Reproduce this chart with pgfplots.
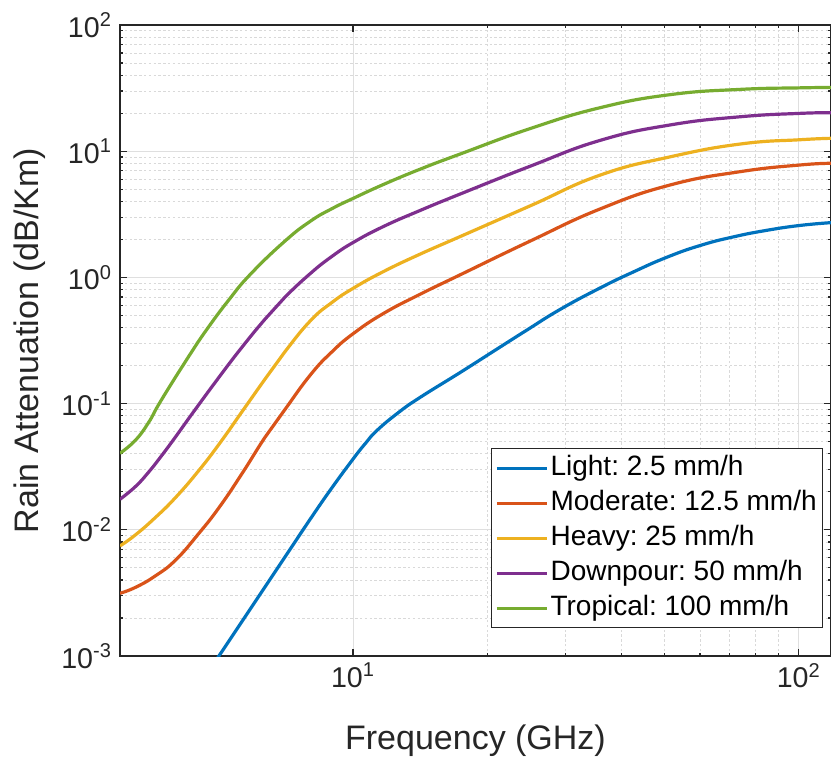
\documentclass[border=0pt]{standalone}
\usepackage{fontspec}
\setmainfont{Liberation Sans}
\usepackage{pgfplots}
\usepackage{pgfplotstable}
\pgfplotsset{compat=1.18}
\frenchspacing

\definecolor{mblue}{rgb}{0,0.447,0.741}
\definecolor{morange}{rgb}{0.85,0.325,0.098}
\definecolor{myellow}{rgb}{0.929,0.694,0.125}
\definecolor{mpurple}{rgb}{0.494,0.184,0.556}
\definecolor{mgreen}{rgb}{0.466,0.674,0.188}
\definecolor{axgray}{rgb}{0.15,0.15,0.15}

\pgfplotstableread{
f A
4.59 0.000646
5.00 0.00100
5.885 0.002366
7.00 0.005929
8.02 0.01219
8.97 0.02158
10.03 0.03690
10.66 0.0484
11.32 0.06138
12.66 0.0853
14.15 0.1122
17.4 0.1766
20.6 0.2582
24.5 0.3811
29.2 0.5598
35.86 0.8260
42.6 1.107
50.6 1.445
60.1 1.791
71.3 2.094
84.7 2.360
100.7 2.582
118.1 2.716
}\light

\pgfplotstableread{
f A
3.00 0.00314
3.25 0.00350
3.60 0.00431
4.00 0.00577
4.51 0.00938
5.02 0.01524
5.64 0.02805
6.36 0.0547
7.02 0.0889
8.02 0.1687
8.97 0.2576
10.03 0.3606
11.71 0.5188
14.15 0.7362
17.4 1.0495
25.0 1.945
35.86 3.491
51.4 5.395
73.9 6.887
100.7 7.780
118.1 8.017
}\moderate

\pgfplotstableread{
f A
3.00 0.00745
3.25 0.00912
3.60 0.01250
4.00 0.01807
4.51 0.02958
5.02 0.04842
5.64 0.0867
6.36 0.1581
7.02 0.2553
8.02 0.4529
8.97 0.6339
10.03 0.8241
11.71 1.114
14.15 1.531
17.4 2.109
25.0 3.698
35.86 6.471
51.4 9.016
73.9 11.40
100.7 12.33
118.1 12.65
}\heavy

\pgfplotstableread{
f A
3.00 0.01746
3.25 0.02203
3.48 0.02871
3.73 0.03917
4.00 0.05470
4.36 0.08356
5.02 0.1644
5.64 0.2812
6.36 0.4710
7.02 0.6918
8.02 1.074
8.97 1.469
10.03 1.901
11.71 2.535
14.15 3.396
17.4 4.581
25.0 7.621
35.86 12.19
51.4 16.14
73.9 18.75
100.7 19.95
118.1 20.18
}\downpour

\pgfplotstableread{
f A
3.00 0.0404
3.25 0.0513
3.48 0.0711
3.66 0.0977
4.00 0.163
4.28 0.237
4.67 0.376
5.26 0.661
5.885 1.059
7.02 1.928
8.02 2.786
8.97 3.508
10.03 4.246
11.71 5.458
14.15 7.211
17.4 9.506
25.0 15.14
35.86 22.13
51.4 28.05
73.9 30.90
100.7 31.77
118.1 31.99
}\tropical

\begin{document}
\begin{tikzpicture}
\begin{loglogaxis}[
  scale only axis,
  width=355.5pt, height=315.5pt,
  xmin=3, xmax=118.1,
  ymin=1e-3, ymax=1e2,
  xtick={10,100},
  xticklabels={10\textsuperscript{1},10\textsuperscript{2}},
  ytick={1e-3,1e-2,1e-1,1,10,100},
  yticklabels={10\textsuperscript{-3},10\textsuperscript{-2},10\textsuperscript{-1},10\textsuperscript{0},10\textsuperscript{1},10\textsuperscript{2}},
  tick label style={font=\fontsize{14.3}{17}\selectfont, text=axgray},
  xticklabel style={yshift=0pt},
  yticklabel style={xshift=-0.5pt},
  axis line style={axgray, line width=0.6pt},
  tick style={axgray, line width=0.6pt},
  major tick length=3.5pt,
  minor tick length=1.75pt,
  tick align=inside,
  grid=both,
  major grid style={gray!25, line width=0.5pt},
  minor grid style={gray!30, line width=0.4pt, dash pattern=on 1.2pt off 1.2pt},
  xlabel={Frequency (GHz)},
  ylabel={Rain Attenuation (dB/Km)},
  label style={font=\fontsize{17}{20}\selectfont, text=axgray},
  xlabel style={at={(axis description cs:0.5,0)}, anchor=center, yshift=-42.5pt},
  ylabel style={at={(axis description cs:-0.1266,0.5)}, anchor=center},
  legend style={
    at={(axis description cs:0.989,0.044)}, anchor=south east,
    draw=axgray, line width=0.5pt, fill=white,
    font=\fontsize{14}{17}\selectfont,
    inner xsep=2pt, inner ysep=1pt,
    nodes={inner sep=1pt, text height=11.5pt, text depth=4pt},
    cells={anchor=west},
  },
  legend image code/.code={\draw[#1, line width=1.6pt] (0pt,0pt) -- (25pt,0pt);},
  every axis plot/.append style={line width=1.6pt, no markers},
]
\addplot[mblue, smooth, tension=0.8] table[x=f,y=A] {\light};
\addlegendentry{Light: 2.5 mm/h}
\addplot[morange, smooth, tension=0.8] table[x=f,y=A] {\moderate};
\addlegendentry{Moderate: 12.5 mm/h}
\addplot[myellow, smooth, tension=0.8] table[x=f,y=A] {\heavy};
\addlegendentry{Heavy: 25 mm/h}
\addplot[mpurple, smooth, tension=0.8] table[x=f,y=A] {\downpour};
\addlegendentry{Downpour: 50 mm/h}
\addplot[mgreen, smooth, tension=0.8] table[x=f,y=A] {\tropical};
\addlegendentry{Tropical: 100 mm/h}
\end{loglogaxis}
\pgfresetboundingbox
\useasboundingbox ([xshift=-60pt,yshift=-52.5pt]current axis.south west) rectangle ([yshift=12.5pt]current axis.north east);
\end{tikzpicture}
\end{document}
